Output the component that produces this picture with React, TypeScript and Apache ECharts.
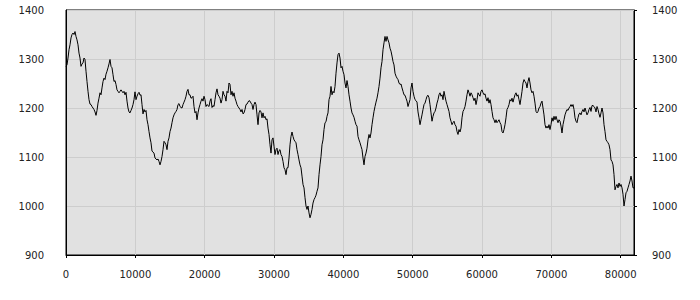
import React, { useEffect, useRef } from "react";
import * as echarts from "echarts";

const seg1 = [1285,
  1288,1302,1319,1329,1343,1350,1353,1350,1356,1346,1339,1329,1312,1302,1285,1290,1292,1302,1299,1275,
  1254,1234,1217,1208,1207,1203,1200,1197,1192,1185,1195,1210,1220,1231,1227,1241,1254,1261,1258,1269,
  1275,1282,1290,1299,1285,1282,1268,1254,1256,1248,1237,1234,1231,1234,1237,1234,1231,1234,1227,1232,
  1214,1200];
const seg2 = [1192,1190,1195,1200,1207,1217,1233,1217,1224,1229,1232,1226,1227,1207,1188,1197,1192,1195,1176,1166,
  1152,1139,1129,1112,1110,1108,1098,1096,1094,1096,1091,1084,1091,1101,1115,1132,1129,1125,1115,1132,
  1139,1152,1159,1170,1180,1186,1190,1193,1197,1207,1209,1203,1201,1200,1207,1212,1217,1224,1234,1238,
  1227,1227,1220,1221];
const seg3 = [1224,1203,1190,1193,1176,1190,1200,1207,1214,1219,1214,1224,1217,1203,1207,1205,1203,1214,1219,1201,
  1205,1203,1217,1231,1239,1227,1224,1220,1210,1217,1234,1227,1224,1214,1234,1231,1251,1248,1227,1234,
  1224,1231,1220,1214,1207,1203,1200,1197,1192,1197,1188,1190,1197,1207,1208,1212,1215,1214,1210,1207,
  1197,1207,1212,1207];
const seg4 = [1186,1166,1190,1195,1192,1180,1190,1180,1183,1176,1178,1159,1146,1125,1108,1135,1139,1122,1105,1115,
  1118,1105,1113,1115,1105,1101,1091,1078,1074,1064,1078,1078,1098,1125,1142,1151,1142,1135,1132,1129,
  1115,1105,1094,1084,1078,1061,1044,1037,1017,1000,993,1000,986,976,983,993,1006,1013,1017,1022,
  1030,1037,1064,1084];
const seg5 = [1101,1125,1135,1156,1170,1172,1183,1190,1217,1224,1244,1227,1234,1231,1244,1271,1292,1309,1312,1302,
  1282,1285,1275,1268,1251,1241,1256,1244,1227,1214,1200,1190,1186,1181,1173,1166,1163,1142,1135,1129,
  1122,1115,1098,1084,1101,1108,1118,1135,1146,1139,1149,1166,1180,1193,1203,1212,1220,1231,1244,1261,
  1282,1295,1319,1333];
const seg6 = [1346,1336,1346,1339,1333,1322,1316,1306,1295,1288,1271,1265,1261,1258,1251,1248,1249,1241,1234,1227,
  1226,1220,1214,1203,1210,1217,1241,1251,1234,1224,1217,1215,1212,1192,1180,1166,1176,1186,1197,1207,
  1210,1217,1224,1226,1221,1207,1190,1173,1183,1190,1193,1200,1210,1217,1227,1231,1224,1227,1217,1234,
  1224,1214,1207,1200];
const seg7 = [1193,1180,1173,1166,1170,1173,1166,1163,1152,1146,1156,1151,1159,1180,1193,1197,1203,1214,1227,1237,
  1231,1224,1231,1227,1221,1215,1220,1207,1217,1231,1227,1224,1234,1237,1231,1227,1229,1220,1214,1221,
  1210,1217,1207,1193,1180,1176,1170,1176,1170,1173,1176,1170,1166,1152,1149,1156,1166,1180,1197,1201,
  1207,1217,1214,1220];
const seg8 = [1212,1220,1227,1231,1224,1227,1217,1207,1220,1234,1251,1258,1254,1251,1241,1254,1262,1251,1237,1231,
  1234,1224,1210,1193,1190,1193,1200,1203,1210,1214,1200,1186,1166,1159,1163,1159,1166,1156,1166,1180,
  1173,1183,1176,1183,1176,1170,1176,1173,1163,1149,1166,1176,1186,1192,1197,1195,1200,1203,1207,1203,
  1207,1197,1180,1173];
const seg9 = [1170,1180,1188,1190,1186,1193,1197,1192,1200,1193,1186,1190,1197,1201,1193,1205,1205,1203,1200,1192,
  1203,1197,1188,1181,1190,1200,1190,1166,1152,1135,1132,1129,1125,1115,1094,1091,1084,1064,1033,1040,
  1044,1037,1047,1040,1044,1037,1024,1000,1013,1027,1030,1037,1044,1051,1061,1051,1037,1037];

const values: number[] = [...seg1, ...seg2, ...seg3, ...seg4, ...seg5, ...seg6, ...seg7, ...seg8, ...seg9];

const X_MAX = 81920;
const X_STEP = X_MAX / (values.length - 1);

const Y_MIN = 900;
const Y_MAX = 1400;
const Y_INTERVAL = 100;
const X_INTERVAL = 10000;

const FONT = "DejaVu Sans";

export default function App() {
  const ref = useRef<HTMLDivElement>(null);
  useEffect(() => {
    document.body.style.margin = "0";
    if (!ref.current) return;
    const chart = echarts.init(ref.current, undefined, { renderer: "svg" });
    const data = values.map((v, i) => [i * X_STEP, v]);
    const labelStyle = { fontFamily: FONT, fontSize: 10, color: "#222" };
    chart.setOption({
      animation: false,
      backgroundColor: "#ffffff",
      grid: {
        left: 66,
        right: 66,
        top: 10,
        bottom: 45,
        show: true,
        backgroundColor: "#e1e1e1",
        borderColor: "#000",
        borderWidth: 1,
      },
      xAxis: {
        type: "value",
        min: 0,
        max: X_MAX,
        interval: X_INTERVAL,
        axisLine: { show: true, lineStyle: { color: "#000", width: 1 } },
        axisTick: { show: true, length: 3, lineStyle: { color: "#000" } },
        axisLabel: {
          ...labelStyle,
          margin: 14,
          showMaxLabel: false,
          formatter: (v: number) => (v % X_INTERVAL === 0 ? String(v) : ""),
        },
        splitLine: { show: true, lineStyle: { color: "#cdcdcd", width: 1 } },
      },
      yAxis: [
        {
          type: "value",
          position: "left",
          min: Y_MIN,
          max: Y_MAX,
          interval: Y_INTERVAL,
          axisLine: { show: true, lineStyle: { color: "#000", width: 1 } },
          axisTick: { show: false },
          axisLabel: { ...labelStyle, margin: 22, formatter: (v: number) => String(v) },
          splitLine: { show: true, lineStyle: { color: "#cdcdcd", width: 1 } },
        },
        {
          type: "value",
          position: "right",
          min: Y_MIN,
          max: Y_MAX,
          interval: Y_INTERVAL,
          axisLine: { show: true, lineStyle: { color: "#000", width: 1 } },
          axisTick: { show: true, length: 3, lineStyle: { color: "#000" } },
          axisLabel: { ...labelStyle, margin: 18, formatter: (v: number) => String(v) },
          splitLine: { show: false },
        },
      ],
      series: [
        {
          type: "line",
          data,
          yAxisIndex: 0,
          showSymbol: false,
          symbol: "none",
          lineStyle: { color: "#000", width: 1 },
          silent: true,
        },
      ],
    });
    return () => chart.dispose();
  }, []);
  return <div ref={ref} style={{ position: "absolute", left: 0, top: 0, width: 700, height: 300 }} />;
}
